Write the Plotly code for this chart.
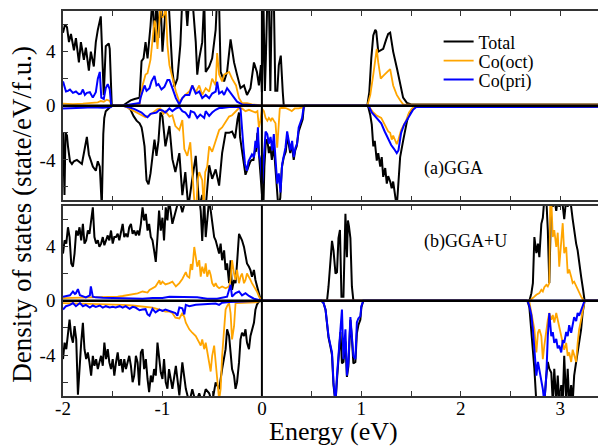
import plotly.graph_objects as go

# ---------------- data (energy in eV, DOS in state/eV/f.u.; spin-down stored negative) -------------
# Panel (a) GGA
a_total_up = [(-2.00,5.4),(-1.98,6.0),(-1.96,5.8),(-1.94,4.7),(-1.92,5.3),(-1.89,4.1),(-1.87,5.0),(-1.84,3.2),
    (-1.82,4.7),(-1.79,3.4),(-1.77,4.3),(-1.74,2.6),(-1.72,4.0),(-1.69,2.9),(-1.67,4.7),(-1.65,5.6),(-1.62,6.6),
    (-1.59,0.8),(-1.57,4.4),(-1.54,4.6),(-1.53,4.2),(-1.51,0.1),(-1.49,0.0),(-1.40,0.0),(-1.36,0.2),(-1.32,0.4),
    (-1.28,0.5),(-1.23,0.6),(-1.21,3.3),(-1.19,3.5),(-1.17,4.7),(-1.15,3.5),(-1.12,5.9),(-1.10,8.0),(-1.08,4.7),
    (-1.06,8.0),(-1.04,5.0),(-1.02,8.0),(-1.00,4.0),(-0.98,6.7),(-0.96,8.0),(-0.94,8.0),(-0.92,5.5),(-0.90,2.6),
    (-0.88,1.4),(-0.85,2.0),(-0.82,4.5),(-0.80,8.0),(-0.77,8.0),(-0.75,5.9),(-0.73,8.0),(-0.70,8.0),(-0.665,4.7),
    (-0.65,2.3),(-0.63,3.5),(-0.60,4.7),(-0.58,8.0),(-0.565,2.5),(-0.53,2.9),(-0.50,3.5),(-0.465,5.6),(-0.45,8.0),
    (-0.43,7.5),(-0.415,2.5),(-0.38,1.8),(-0.35,2.5),(-0.315,4.9),(-0.28,3.2),(-0.25,2.3),(-0.215,1.3),(-0.18,1.5),
    (-0.15,0.8),(-0.115,1.3),(-0.08,3.2),(-0.05,2.5),(-0.03,1.5),(-0.01,3.0),(0.00,1.0),(0.015,8.0),(0.03,1.1),
    (0.04,3.5),(0.055,8.0),(0.07,8.0),(0.085,1.1),(0.10,8.0),(0.12,8.0),(0.135,1.1),(0.155,1.1),(0.17,3.0),
    (0.19,3.7),(0.21,1.0),(0.22,0.0),(1.06,0.0),(1.08,1.0),(1.10,3.5),(1.12,5.2),(1.14,5.6),(1.15,5.5),(1.17,4.0),
    (1.19,4.1),(1.22,4.2),(1.25,4.9),(1.27,5.3),(1.29,5.4),(1.32,4.0),(1.36,2.7),(1.39,1.5),(1.42,0.6),(1.46,0.2),
    (1.50,0.1),(3.43,0.1)]
a_oct_up = [(-2.00,0.15),(-1.90,0.12),(-1.80,0.15),(-1.70,0.2),(-1.65,0.25),(-1.62,0.35),(-1.59,0.3),(-1.56,0.45),
    (-1.53,0.35),(-1.51,0.0),(-1.40,0.0),(-1.30,0.05),(-1.23,0.1),(-1.21,1.3),(-1.20,1.5),(-1.17,2.3),(-1.15,2.4),
    (-1.12,3.4),(-1.10,5.0),(-1.08,6.3),(-1.07,6.1),(-1.05,4.2),(-1.03,6.3),(-1.02,8.0),(-1.00,6.5),(-0.98,6.8),
    (-0.97,8.0),(-0.95,4.5),(-0.93,3.0),(-0.90,2.0),(-0.865,1.05),(-0.83,0.3),(-0.80,0.56),(-0.77,0.8),(-0.73,1.05),
    (-0.70,1.5),(-0.665,1.0),(-0.63,1.5),(-0.60,0.8),(-0.565,1.3),(-0.53,1.05),(-0.50,2.0),(-0.465,1.5),(-0.45,3.9),
    (-0.43,2.3),(-0.40,1.8),(-0.38,2.3),(-0.33,2.5),(-0.30,2.0),(-0.26,1.5),(-0.23,0.56),(-0.20,0.2),(-0.15,0.2),
    (-0.10,0.1),(0.00,0.05),(0.22,0.0),(1.06,0.0),(1.09,0.8),(1.12,2.3),(1.14,3.5),(1.155,4.2),(1.17,3.2),
    (1.195,2.0),(1.22,2.2),(1.256,2.5),(1.29,2.7),(1.32,1.5),(1.356,0.8),(1.39,0.4),(1.42,0.1),(3.43,0.08)]
a_pri_up = [(-2.00,1.8),(-1.98,1.4),(-1.97,1.05),(-1.95,1.1),(-1.93,1.2),(-1.90,0.95),(-1.87,1.05),(-1.84,0.85),
    (-1.82,0.9),(-1.80,1.2),(-1.78,0.8),(-1.76,0.95),(-1.73,1.0),(-1.70,0.6),(-1.67,1.0),(-1.65,2.0),(-1.63,2.5),
    (-1.615,0.6),(-1.59,0.5),(-1.57,1.3),(-1.55,1.6),(-1.53,1.2),(-1.515,0.0),(-1.40,0.0),(-1.30,0.1),(-1.23,0.2),
    (-1.22,0.6),(-1.20,1.0),(-1.18,1.5),(-1.16,1.1),(-1.13,1.3),(-1.11,1.8),(-1.08,2.2),(-1.06,1.5),(-1.04,1.6),
    (-1.01,1.2),(-0.98,1.4),(-0.95,1.9),(-0.93,1.9),(-0.90,1.3),(-0.865,0.56),(-0.83,0.1),(-0.80,0.56),(-0.77,0.8),
    (-0.73,0.8),(-0.70,1.5),(-0.665,0.9),(-0.63,1.05),(-0.60,0.56),(-0.565,0.8),(-0.53,0.56),(-0.50,0.9),
    (-0.465,1.05),(-0.45,1.77),(-0.43,0.9),(-0.40,1.05),(-0.38,0.8),(-0.35,1.3),(-0.31,0.9),(-0.28,0.6),
    (-0.25,0.3),(-0.20,0.1),(-0.10,0.05),(0.00,0.0),(3.43,0.0)]
a_total_dn = [(-2.00,-2.0),(-1.99,-5.8),(-1.985,-6.6),(-1.975,-2.0),(-1.96,-2.2),(-1.95,-3.0),(-1.93,-4.1),
    (-1.91,-4.3),(-1.89,-4.1),(-1.86,-4.0),(-1.84,-4.1),(-1.81,-4.3),(-1.78,-3.1),(-1.76,-2.3),(-1.74,-3.6),
    (-1.72,-4.0),(-1.70,-4.5),(-1.67,-4.8),(-1.65,-4.1),(-1.63,-4.5),(-1.61,-7.5),(-1.595,-2.1),(-1.585,-0.9),
    (-1.57,-0.4),(-1.54,-0.2),(-1.52,-0.05),(-1.50,0.0),(-1.38,0.0),(-1.35,-0.1),(-1.32,-0.3),(-1.29,-0.77),
    (-1.26,-1.1),(-1.23,-1.3),(-1.21,-1.6),(-1.20,-2.0),(-1.18,-3.0),(-1.16,-5.5),(-1.14,-5.8),(-1.12,-5.0),
    (-1.10,-3.9),(-1.08,-2.5),(-1.06,-3.7),(-1.04,-2.6),(-1.02,-0.5),(-1.00,-0.8),(-0.97,-3.0),(-0.95,-2.2),
    (-0.93,-1.5),(-0.90,-3.95),(-0.87,-4.9),(-0.83,-3.5),(-0.80,-6.6),(-0.77,-4.9),(-0.74,-7.5),(-0.70,-5.4),
    (-0.665,-3.7),(-0.63,-7.5),(-0.60,-6.6),(-0.565,-7.5),(-0.53,-4.4),(-0.50,-5.4),(-0.465,-4.7),(-0.43,-5.9),
    (-0.40,-3.5),(-0.365,-2.0),(-0.33,-2.0),(-0.30,-1.9),(-0.27,-2.4),(-0.245,-1.0),(-0.23,-0.5),(-0.22,-2.3),
    (-0.20,-3.4),(-0.18,-4.6),(-0.165,-5.1),(-0.15,-4.8),(-0.13,-4.3),(-0.115,-4.1),(-0.10,-4.0),(-0.085,-4.0),
    (-0.07,-3.3),(-0.06,-3.4),(-0.045,-2.0),(-0.03,-3.9),(-0.015,-5.0),(0.00,-6.5),(0.015,-7.5),(0.025,-4.5),
    (0.04,-2.6),(0.055,-2.5),(0.07,-3.5),(0.085,-3.0),(0.10,-4.0),(0.12,-3.0),(0.135,-4.5),(0.15,-6.5),
    (0.165,-7.5),(0.185,-6.8),(0.20,-4.6),(0.22,-3.8),(0.24,-3.4),(0.255,-2.2),(0.27,-2.8),(0.285,-3.5),
    (0.30,-2.8),(0.32,-4.0),(0.335,-3.3),(0.35,-3.0),(0.37,-1.9),(0.39,-1.4),(0.41,-1.0),(0.42,-0.2),(0.43,0.0),
    (1.06,0.0),(1.07,-0.1),(1.09,-0.7),(1.105,-1.4),(1.12,-3.0),(1.135,-2.6),(1.155,-4.05),(1.17,-3.5),
    (1.19,-4.5),(1.205,-3.8),(1.22,-5.25),(1.24,-4.6),(1.256,-5.75),(1.27,-5.2),(1.29,-5.6),(1.305,-6.1),
    (1.32,-5.6),(1.34,-6.6),(1.356,-7.5),(1.37,-6.0),(1.39,-3.8),(1.42,-2.6),(1.44,-1.8),(1.46,-1.1),
    (1.48,-0.6),(1.50,-0.35),(1.52,-0.2),(1.55,-0.1),(3.43,-0.08)]
a_oct_dn = [(-2.00,-0.05),(-1.50,-0.05),(-1.48,0.0),(-1.40,0.0),(-1.36,-0.1),(-1.32,-0.25),(-1.28,-0.4),
    (-1.24,-0.55),(-1.20,-0.7),(-1.17,-0.85),(-1.14,-0.75),(-1.11,-0.6),(-1.08,-0.4),(-1.05,-0.25),(-1.02,-0.2),
    (-0.99,-0.6),(-0.97,-0.4),(-0.93,-0.8),(-0.90,-0.7),(-0.87,-1.5),(-0.83,-1.8),(-0.80,-1.05),(-0.78,-3.2),
    (-0.75,-3.7),(-0.72,-2.7),(-0.69,-5.9),(-0.675,-7.5),(-0.66,-7.5),(-0.645,-5.5),(-0.63,-4.9),(-0.60,-5.5),
    (-0.585,-7.5),(-0.57,-4.9),(-0.55,-4.5),(-0.53,-3.0),(-0.50,-3.4),(-0.465,-2.6),(-0.43,-1.8),(-0.40,-1.6),
    (-0.365,-1.2),(-0.33,-0.8),(-0.30,-0.7),(-0.265,-0.4),(-0.23,-0.17),(-0.20,-0.2),(-0.165,-0.4),(-0.13,-0.3),
    (-0.10,-0.4),(-0.065,-0.5),(-0.045,-0.4),(-0.03,-1.6),(-0.015,-1.1),(0.00,-0.2),(0.02,-0.4),(0.037,-0.9),
    (0.055,-1.1),(0.07,-0.9),(0.09,-1.1),(0.104,-0.9),(0.12,-1.1),(0.137,-1.3),(0.154,-3.1),(0.165,-2.1),
    (0.18,-0.2),(0.20,-0.15),(0.24,-0.17),(0.28,-0.3),(0.30,-0.4),(0.33,-0.2),(0.37,-0.2),(0.42,-0.1),(0.43,0.0),
    (1.06,0.0),(1.08,-0.1),(1.115,-0.45),(1.15,-0.7),(1.20,-0.9),(1.235,-1.4),(1.27,-1.9),(1.29,-2.0),
    (1.306,-2.5),(1.32,-2.2),(1.34,-2.6),(1.356,-2.84),(1.373,-2.5),(1.39,-1.9),(1.40,-1.8),(1.42,-1.5),
    (1.45,-1.1),(1.48,-0.5),(1.51,-0.2),(1.55,-0.05),(3.43,-0.05)]
a_pri_dn = [(-2.00,-0.2),(-1.90,-0.15),(-1.80,-0.15),(-1.70,-0.12),(-1.60,-0.15),(-1.52,-0.1),(-1.50,0.0),
    (-1.40,0.0),(-1.36,-0.05),(-1.32,-0.15),(-1.28,-0.25),(-1.24,-0.4),(-1.21,-0.5),(-1.18,-0.7),(-1.15,-0.85),
    (-1.12,-0.6),(-1.09,-0.55),(-1.06,-0.5),(-1.03,-0.3),(-1.00,-0.35),(-0.97,-0.5),(-0.93,-0.2),(-0.90,-0.4),
    (-0.865,-0.2),(-0.83,-0.1),(-0.80,-0.4),(-0.77,-0.5),(-0.73,-0.9),(-0.715,-0.4),(-0.68,-0.5),(-0.65,-0.9),
    (-0.62,-0.65),(-0.58,-0.9),(-0.565,-0.4),(-0.53,-0.75),(-0.50,-0.5),(-0.465,-0.3),(-0.43,-0.17),(-0.40,-0.17),
    (-0.33,-0.1),(-0.265,-0.1),(-0.23,-0.1),(-0.215,-0.2),(-0.20,-2.1),(-0.185,-3.1),(-0.17,-4.3),(-0.15,-4.8),
    (-0.135,-4.1),(-0.115,-3.8),(-0.10,-3.6),(-0.08,-3.8),(-0.065,-2.6),(-0.05,-3.1),(-0.04,-1.6),(-0.03,-3.6),
    (-0.015,-4.0),(0.003,-5.75),(0.02,-3.6),(0.037,-1.9),(0.054,-2.1),(0.07,-2.8),(0.087,-2.3),(0.104,-3.3),
    (0.12,-2.1),(0.137,-4.05),(0.154,-5.75),(0.17,-5.0),(0.187,-6.4),(0.204,-4.3),(0.22,-3.6),(0.237,-3.1),
    (0.254,-1.9),(0.27,-2.5),(0.287,-3.3),(0.304,-2.6),(0.32,-3.8),(0.337,-3.1),(0.354,-2.8),(0.37,-1.6),
    (0.387,-1.3),(0.404,-0.9),(0.42,-0.1),(0.43,0.0),(1.06,0.0),(1.08,-0.1),(1.105,-0.5),(1.14,-0.8),
    (1.17,-1.1),(1.20,-1.3),(1.235,-1.9),(1.27,-2.5),(1.30,-2.9),(1.33,-3.2),(1.356,-3.5),(1.373,-3.3),
    (1.39,-2.6),(1.40,-2.0),(1.43,-1.4),(1.46,-1.0),(1.49,-0.6),(1.52,-0.3),(1.55,-0.1),(3.43,-0.08)]

# Panel (b) GGA+U
b_total_up = [(-2.00,3.47),(-1.984,4.44),(-1.967,4.2),(-1.95,5.4),(-1.934,4.68),(-1.917,2.74),(-1.90,2.5),
    (-1.884,3.47),(-1.867,5.16),(-1.85,4.8),(-1.834,5.4),(-1.817,4.44),(-1.80,5.65),(-1.784,4.2),(-1.767,4.44),
    (-1.75,5.16),(-1.734,4.92),(-1.717,6.1),(-1.70,6.86),(-1.684,4.68),(-1.667,4.2),(-1.65,4.44),(-1.634,3.96),
    (-1.617,4.2),(-1.60,4.68),(-1.584,4.08),(-1.567,4.44),(-1.55,4.8),(-1.534,4.44),(-1.517,5.16),(-1.50,4.2),
    (-1.484,4.68),(-1.467,4.68),(-1.45,4.92),(-1.434,4.44),(-1.417,5.16),(-1.40,5.65),(-1.384,4.68),
    (-1.367,4.92),(-1.35,4.68),(-1.334,5.4),(-1.317,5.65),(-1.30,4.92),(-1.284,5.16),(-1.267,4.8),(-1.25,5.16),
    (-1.234,4.8),(-1.217,5.65),(-1.20,6.86),(-1.184,5.9),(-1.167,6.38),(-1.15,5.16),(-1.134,5.65),(-1.117,4.68),
    (-1.10,4.44),(-1.084,3.7),(-1.067,2.86),(-1.05,4.68),(-1.034,6.62),(-1.017,5.16),(-1.00,6.1),(-0.984,4.44),
    (-0.967,6.86),(-0.95,5.9),(-0.934,7.5),(-0.90,5.65),(-0.867,6.62),(-0.834,7.5),(-0.80,6.5),(-0.765,7.5),
    (-0.73,7.5),(-0.70,7.5),(-0.665,7.5),(-0.63,7.5),(-0.615,6.6),(-0.60,4.4),(-0.58,7.5),(-0.565,4.68),
    (-0.53,7.5),(-0.50,5.9),(-0.48,4.68),(-0.465,4.44),(-0.45,3.96),(-0.43,3.47),(-0.415,4.2),(-0.40,2.98),
    (-0.38,3.7),(-0.365,2.26),(-0.35,2.74),(-0.33,1.3),(-0.315,2.98),(-0.30,0.8),(-0.28,1.53),(-0.265,1.29),
    (-0.25,2.74),(-0.23,4.92),(-0.215,4.68),(-0.20,4.44),(-0.18,3.96),(-0.165,3.47),(-0.15,2.74),(-0.13,2.5),
    (-0.115,2.26),(-0.10,1.77),(-0.08,2.26),(-0.065,1.53),(-0.05,1.05),(-0.03,0.56),(-0.013,0.07),(0.00,0.0),
    (0.655,0.0),(0.67,1.05),(0.69,3.0),(0.705,4.4),(0.72,3.7),(0.74,2.0),(0.755,2.1),(0.77,4.6),(0.785,5.2),
    (0.80,0.3),(0.82,0.3),(0.84,6.4),(0.855,3.2),(0.865,5.9),(0.875,5.5),(0.89,4.6),(0.905,1.05),(0.92,0.0),
    (2.69,0.0),(2.71,0.56),(2.725,1.29),(2.74,4.68),(2.76,3.5),(2.776,4.2),(2.79,3.2),(2.81,5.65),(2.825,6.1),
    (2.84,7.5),(2.86,7.5),(2.875,5.2),(2.89,1.3),(2.91,7.5),(2.925,6.9),(2.94,7.5),(2.96,6.6),(2.975,7.5),
    (2.99,6.9),(3.01,7.5),(3.025,7.0),(3.04,6.0),(3.06,7.5),(3.075,6.9),(3.09,7.5),(3.11,6.9),(3.125,6.0),
    (3.14,5.16),(3.16,4.2),(3.175,3.7),(3.19,2.75),(3.21,1.77),(3.23,0.8),(3.245,0.0),(3.43,0.0)]
b_oct_up = [(-2.00,0.2),(-1.90,0.22),(-1.80,0.2),(-1.70,0.25),(-1.60,0.25),(-1.50,0.3),(-1.45,0.3),(-1.40,0.35),
    (-1.35,0.4),(-1.30,0.45),(-1.25,0.55),(-1.20,0.68),(-1.15,0.6),(-1.13,0.8),(-1.10,0.9),(-1.07,1.05),
    (-1.03,1.5),(-1.02,1.2),(-1.00,1.4),(-0.97,1.2),(-0.93,1.3),(-0.90,1.4),(-0.865,1.05),(-0.83,1.3),(-0.80,1.6),
    (-0.765,2.1),(-0.75,1.8),(-0.73,1.7),(-0.715,2.7),(-0.70,2.26),(-0.68,3.95),(-0.665,3.2),(-0.65,2.5),
    (-0.63,2.98),(-0.615,1.77),(-0.60,2.5),(-0.58,2.0),(-0.565,2.74),(-0.55,1.77),(-0.53,2.26),(-0.515,1.9),
    (-0.50,1.3),(-0.48,1.05),(-0.465,1.3),(-0.45,1.05),(-0.43,0.92),(-0.40,1.05),(-0.365,0.92),(-0.33,1.05),
    (-0.315,1.53),(-0.30,2.98),(-0.28,2.0),(-0.265,1.53),(-0.25,2.26),(-0.23,1.29),(-0.215,1.77),(-0.20,2.0),
    (-0.18,1.29),(-0.165,1.53),(-0.15,2.0),(-0.13,1.77),(-0.115,1.53),(-0.10,1.29),(-0.08,1.05),(-0.065,0.8),
    (-0.05,0.68),(-0.03,0.32),(-0.01,0.07),(0.00,0.0),(2.69,0.0),(2.71,0.1),(2.725,0.2),(2.74,0.3),(2.76,0.44),
    (2.776,0.5),(2.79,0.56),(2.81,0.8),(2.825,0.68),(2.84,1.0),(2.86,1.17),(2.875,1.05),(2.89,1.3),(2.90,7.5),
    (2.91,7.5),(2.925,4.68),(2.94,5.2),(2.96,3.95),(2.975,5.0),(2.99,2.5),(3.01,4.5),(3.025,5.7),(3.04,3.5),
    (3.06,3.95),(3.075,2.0),(3.09,2.3),(3.11,1.77),(3.125,1.3),(3.14,1.4),(3.16,1.05),(3.175,0.8),(3.19,0.56),
    (3.21,0.3),(3.23,0.07),(3.245,0.0),(3.43,0.0)]
b_pri_up = [(-2.00,0.3),(-1.97,0.35),(-1.93,0.4),(-1.90,0.68),(-1.88,0.5),(-1.87,0.55),(-1.85,0.85),(-1.83,0.4),
    (-1.80,0.3),(-1.77,0.25),(-1.73,0.4),(-1.72,1.05),(-1.70,0.3),(-1.67,0.25),(-1.60,0.22),(-1.50,0.2),
    (-1.40,0.2),(-1.30,0.15),(-1.20,0.15),(-1.10,0.2),(-1.00,0.2),(-0.93,0.3),(-0.85,0.28),(-0.75,0.3),
    (-0.65,0.25),(-0.55,0.15),(-0.45,0.15),(-0.35,0.3),(-0.315,1.17),(-0.30,0.3),(-0.265,0.56),(-0.23,0.68),
    (-0.20,0.4),(-0.165,0.56),(-0.13,0.35),(-0.08,0.15),(0.00,0.0),(3.43,0.0)]
b_total_dn = [(-2.00,-4.29),(-1.984,-3.08),(-1.967,-3.56),(-1.95,-2.35),(-1.934,-1.38),(-1.917,-2.59),
    (-1.90,-3.08),(-1.884,-1.87),(-1.867,-2.84),(-1.85,-6.9),(-1.834,-4.53),(-1.817,-3.08),(-1.80,-1.62),
    (-1.784,-3.56),(-1.767,-4.29),(-1.75,-3.8),(-1.734,-4.53),(-1.717,-5.5),(-1.70,-4.05),(-1.684,-4.78),
    (-1.667,-4.29),(-1.65,-5.02),(-1.634,-4.53),(-1.617,-4.05),(-1.60,-4.78),(-1.584,-3.08),(-1.567,-4.29),
    (-1.55,-3.56),(-1.534,-4.53),(-1.517,-5.02),(-1.50,-4.29),(-1.484,-5.5),(-1.467,-4.53),(-1.45,-3.8),
    (-1.434,-4.78),(-1.417,-4.29),(-1.40,-5.26),(-1.384,-4.29),(-1.367,-5.02),(-1.35,-4.53),(-1.334,-4.05),
    (-1.317,-4.78),(-1.30,-5.99),(-1.284,-5.5),(-1.267,-4.05),(-1.25,-4.53),(-1.234,-6.23),(-1.217,-3.8),
    (-1.20,-3.56),(-1.184,-5.02),(-1.167,-4.29),(-1.15,-5.75),(-1.134,-6.72),(-1.117,-5.5),(-1.10,-5.99),
    (-1.084,-5.02),(-1.067,-5.5),(-1.05,-3.08),(-1.034,-4.05),(-1.017,-5.26),(-1.00,-5.75),(-0.984,-4.29),
    (-0.967,-5.99),(-0.95,-6.47),(-0.934,-5.02),(-0.90,-6.47),(-0.865,-4.78),(-0.83,-6.96),(-0.80,-4.53),
    (-0.765,-6.47),(-0.73,-7.5),(-0.70,-6.5),(-0.665,-7.5),(-0.63,-6.8),(-0.60,-7.5),(-0.565,-6.5),(-0.53,-6.8),
    (-0.50,-7.5),(-0.465,-6.0),(-0.43,-6.5),(-0.40,-5.02),(-0.365,-3.56),(-0.35,-2.1),(-0.33,-2.59),
    (-0.315,-3.8),(-0.30,-5.02),(-0.28,-5.5),(-0.265,-6.47),(-0.25,-6.0),(-0.23,-4.53),(-0.215,-2.84),
    (-0.20,-2.35),(-0.18,-2.59),(-0.165,-2.1),(-0.15,-3.08),(-0.13,-3.56),(-0.115,-2.59),(-0.10,-2.1),
    (-0.08,-1.62),(-0.065,-0.65),(-0.05,-0.29),(-0.03,-0.05),(0.00,0.0),(0.60,0.0),(0.62,-0.17),(0.64,-0.65),
    (0.655,-1.7),(0.67,-2.7),(0.69,-3.4),(0.705,-4.0),(0.72,-6.2),(0.74,-7.5),(0.755,-5.8),(0.77,-4.2),
    (0.79,-2.3),(0.805,-4.6),(0.82,-4.5),(0.84,-3.0),(0.855,-5.6),(0.87,-4.8),(0.89,-1.4),(0.905,-2.8),
    (0.92,-4.6),(0.94,-4.5),(0.955,-2.4),(0.97,-1.8),(0.99,-1.4),(1.00,-0.5),(1.02,0.0),(2.66,0.0),(2.675,-0.1),
    (2.69,-0.5),(2.71,-2.1),(2.725,-3.3),(2.74,-5.0),(2.76,-7.5),(2.776,-7.5),(2.81,-7.5),(2.825,-7.5),
    (2.84,-7.5),(2.86,-5.5),(2.875,-4.5),(2.89,-5.0),(2.91,-5.3),(2.925,-7.5),(2.94,-5.0),(2.96,-7.5),
    (2.975,-5.5),(2.99,-7.5),(3.01,-6.2),(3.025,-7.5),(3.04,-4.05),(3.06,-7.5),(3.075,-5.0),(3.09,-7.5),
    (3.11,-6.2),(3.125,-7.5),(3.14,-5.5),(3.16,-4.5),(3.175,-3.8),(3.19,-3.1),(3.21,-2.1),(3.225,-0.9),
    (3.245,0.0),(3.43,0.0)]
b_oct_dn = [(-2.00,-0.17),(-1.80,-0.2),(-1.60,-0.22),(-1.50,-0.25),(-1.40,-0.3),(-1.30,-0.35),(-1.20,-0.4),
    (-1.10,-0.5),(-1.03,-0.65),(-0.97,-0.8),(-0.93,-0.8),(-0.90,-0.9),(-0.87,-1.25),(-0.83,-1.3),(-0.80,-0.9),
    (-0.78,-1.2),(-0.765,-1.62),(-0.73,-2.1),(-0.70,-2.35),(-0.665,-2.6),(-0.63,-3.08),(-0.615,-3.3),
    (-0.60,-2.84),(-0.58,-3.56),(-0.565,-3.08),(-0.55,-3.8),(-0.53,-4.5),(-0.515,-5.2),(-0.50,-4.05),
    (-0.48,-3.3),(-0.465,-4.5),(-0.45,-5.5),(-0.43,-7.3),(-0.415,-6.5),(-0.40,-4.05),(-0.38,-2.1),(-0.365,-0.65),
    (-0.35,-0.4),(-0.33,-0.17),(-0.315,-0.9),(-0.30,-2.84),(-0.28,-1.87),(-0.265,-0.17),(-0.25,-0.17),
    (-0.20,-0.17),(-0.13,-0.17),(-0.065,-0.12),(0.00,0.0),(0.60,0.0),(0.62,-0.05),(1.02,-0.05),(1.04,0.0),
    (2.66,0.0),(2.69,-0.1),(2.71,-1.05),(2.725,-1.5),(2.74,-2.1),(2.76,-3.8),(2.776,-2.35),(2.79,-2.1),
    (2.81,-2.6),(2.825,-4.3),(2.84,-3.3),(2.86,-2.1),(2.875,-1.4),(2.89,-0.9),(2.91,-1.4),(2.925,-1.05),
    (2.94,-1.6),(2.96,-0.9),(2.975,-1.4),(2.99,-1.9),(3.01,-2.6),(3.025,-3.1),(3.04,-3.6),(3.06,-3.1),
    (3.075,-4.05),(3.09,-3.8),(3.11,-4.5),(3.125,-3.6),(3.14,-4.05),(3.16,-4.5),(3.175,-3.1),(3.19,-2.1),
    (3.21,-1.4),(3.225,-0.65),(3.245,0.0),(3.43,0.0)]
b_pri_dn = [(-2.00,-0.65),(-1.97,-0.4),(-1.93,-0.3),(-1.90,-0.17),(-1.87,-0.4),(-1.83,-0.17),(-1.80,-0.4),
    (-1.77,-0.3),(-1.73,-0.5),(-1.70,-0.35),(-1.67,-0.45),(-1.63,-0.35),(-1.60,-0.5),(-1.57,-0.4),(-1.53,-0.5),
    (-1.50,-0.45),(-1.47,-0.5),(-1.43,-0.4),(-1.40,-0.5),(-1.37,-0.4),(-1.33,-0.6),(-1.30,-0.45),(-1.27,-0.5),
    (-1.23,-0.7),(-1.20,-0.65),(-1.17,-0.62),(-1.15,-1.0),(-1.13,-1.1),(-1.10,-0.6),(-1.07,-0.85),(-1.03,-0.65),
    (-1.00,-0.75),(-0.97,-0.65),(-0.93,-0.75),(-0.87,-0.9),(-0.85,-1.1),(-0.83,-0.5),(-0.80,-0.55),(-0.78,-1.0),
    (-0.765,-0.3),(-0.73,-0.4),(-0.665,-0.3),(-0.60,-0.25),(-0.53,-0.2),(-0.465,-0.2),(-0.43,-0.3),(-0.40,-0.15),
    (-0.33,-0.1),(-0.265,-0.07),(-0.20,-0.05),(-0.13,-0.03),(0.00,0.0),(0.60,0.0),(0.62,-0.17),(0.64,-0.65),
    (0.655,-1.6),(0.67,-2.6),(0.69,-3.3),(0.705,-3.8),(0.72,-6.0),(0.74,-7.5),(0.755,-5.5),(0.77,-4.05),
    (0.79,-2.1),(0.805,-0.65),(0.82,-4.3),(0.84,-2.1),(0.855,-5.5),(0.87,-4.5),(0.89,-1.2),(0.905,-2.4),
    (0.92,-4.05),(0.94,-4.3),(0.955,-1.6),(0.97,-1.3),(0.99,-1.14),(1.00,-0.4),(1.02,0.0),(2.66,0.0),
    (2.675,-0.05),(2.69,-0.4),(2.71,-1.05),(2.725,-2.1),(2.74,-3.8),(2.76,-5.5),(2.776,-4.5),(2.79,-5.0),
    (2.81,-5.75),(2.825,-6.5),(2.84,-7.5),(2.86,-5.5),(2.875,-2.6),(2.89,-0.9),(2.91,-2.6),(2.925,-2.3),
    (2.94,-3.1),(2.96,-2.8),(2.975,-3.5),(2.99,-3.3),(3.01,-3.8),(3.025,-2.9),(3.04,-3.1),(3.06,-2.3),
    (3.075,-2.6),(3.09,-1.8),(3.11,-2.35),(3.125,-1.6),(3.14,-1.2),(3.16,-1.5),(3.175,-0.9),(3.19,-1.1),
    (3.21,-0.65),(3.225,-0.3),(3.245,0.0),(3.43,0.0)]

series_names = ["Total", "Co(oct)", "Co(pri)"]
series_colors = ["#000000", "#FFA500", "#0000FF"]
series_widths = [2.0, 1.8, 2.0]
legend_ids = ["legend", "legend2", "legend3"]
legend_rows_y = [0.9197, 0.8705, 0.8212]   # paper y of legend rows

x_range = [-2, 3.43]
y_range = [-7, 7]
x_tick_vals = [-2, -1, 0, 1, 2, 3]
x_tick_text = ["-2", "-1", "0", "1", "2", "3"]
x_minor_vals = [-1.5, -0.5, 0.5, 1.5, 2.5]
y_tick_vals = [-4, 0, 4]
y_tick_text = ["-4", "0", "4"]
y_minor_vals = [-6, -2, 2, 6]

panels = [
    ("x", "y", [a_total_up, a_oct_up, a_pri_up], [a_total_dn, a_oct_dn, a_pri_dn], True),
    ("x2", "y2", [b_total_up, b_oct_up, b_pri_up], [b_total_dn, b_oct_dn, b_pri_dn], False),
]

FONT = "Liberation Serif, Times New Roman, serif"

fig = go.Figure()
for xa, ya, ups, dns, show in panels:
    for i in range(3):
        for j, curve in enumerate((ups[i], dns[i])):
            ex, dv = zip(*curve)
            fig.add_trace(go.Scatter(
                x=list(ex), y=list(dv), mode="lines", xaxis=xa, yaxis=ya,
                name=series_names[i], legend=legend_ids[i],
                showlegend=(show and j == 0),
                line=dict(color=series_colors[i], width=series_widths[i]),
                hoverinfo="skip"))

frame = "#333333"
axis_common = dict(
    showline=True, linecolor=frame, linewidth=1.6, mirror="ticks",
    ticks="inside", ticklen=5, tickwidth=1.2, tickcolor=frame,
    showgrid=False, zeroline=False, tickfont=dict(family=FONT, size=19, color="black"),
)
xcommon = dict(axis_common, range=x_range, tickmode="array", tickvals=x_tick_vals,
               ticktext=x_tick_text,
               minor=dict(tickvals=x_minor_vals, ticks="inside", ticklen=5, tickcolor=frame, tickwidth=1.2))
ycommon = dict(axis_common, range=y_range, tickmode="array", tickvals=y_tick_vals,
               ticktext=y_tick_text,
               minor=dict(tickvals=y_minor_vals, ticks="inside", ticklen=5, tickcolor=frame, tickwidth=1.2),
               ticklabelstandoff=2)

# zero reference lines on top of the curves
shapes = []
for xa, ya in (("x", "y"), ("x2", "y2")):
    shapes.append(dict(type="line", xref=xa + " domain", yref=ya, x0=0, x1=1, y0=0, y1=0,
                       layer="above", line=dict(color="black", width=2.6)))
    shapes.append(dict(type="line", xref=xa, yref=ya + " domain", x0=0, x1=0, y0=0, y1=1,
                       layer="above", line=dict(color="black", width=2)))

legend_layout = {}
for lid, ly in zip(legend_ids, legend_rows_y):
    legend_layout[lid] = dict(x=0.6956, y=ly, xanchor="left", yanchor="middle",
                              bgcolor="rgba(0,0,0,0)", borderwidth=0,
                              font=dict(family=FONT, size=18, color="black"))

# the page body adds an 8px offset, so the figure is sized/positioned to compensate
fig.update_layout(
    width=598, height=439,
    margin=dict(l=55, r=1, t=2, b=51),
    paper_bgcolor="white", plot_bgcolor="white",
    font=dict(family=FONT, color="black"),
    xaxis=dict(xcommon, anchor="y", showticklabels=False),
    yaxis=dict(ycommon, domain=[0.5078, 1.0], anchor="x"),
    xaxis2=dict(xcommon, anchor="y2", matches="x", ticklabelstandoff=-6),
    yaxis2=dict(ycommon, domain=[0.0, 0.4948], anchor="x2"),
    showlegend=True,
    shapes=shapes,
    annotations=[
        dict(text="(a)GGA", xref="paper", yref="paper", x=0.664, y=0.591, xanchor="left",
             yanchor="middle", showarrow=False, font=dict(family=FONT, size=18, color="black")),
        dict(text="(b)GGA+U", xref="paper", yref="paper", x=0.664, y=0.4016, xanchor="left",
             yanchor="middle", showarrow=False, font=dict(family=FONT, size=18, color="black")),
        dict(text="Density of states (state/eV/f.u.)", xref="paper", yref="paper", x=-0.0756,
             y=0.4715, xanchor="center", yanchor="middle", textangle=-90, showarrow=False,
             font=dict(family=FONT, size=27, color="black")),
        dict(text="Energy (eV)", xref="paper", yref="paper", x=0.5, y=-0.0933,
             xanchor="center", yanchor="middle", showarrow=False,
             font=dict(family=FONT, size=26, color="black")),
    ],
    **legend_layout,
)

fig.write_html("out.html")
